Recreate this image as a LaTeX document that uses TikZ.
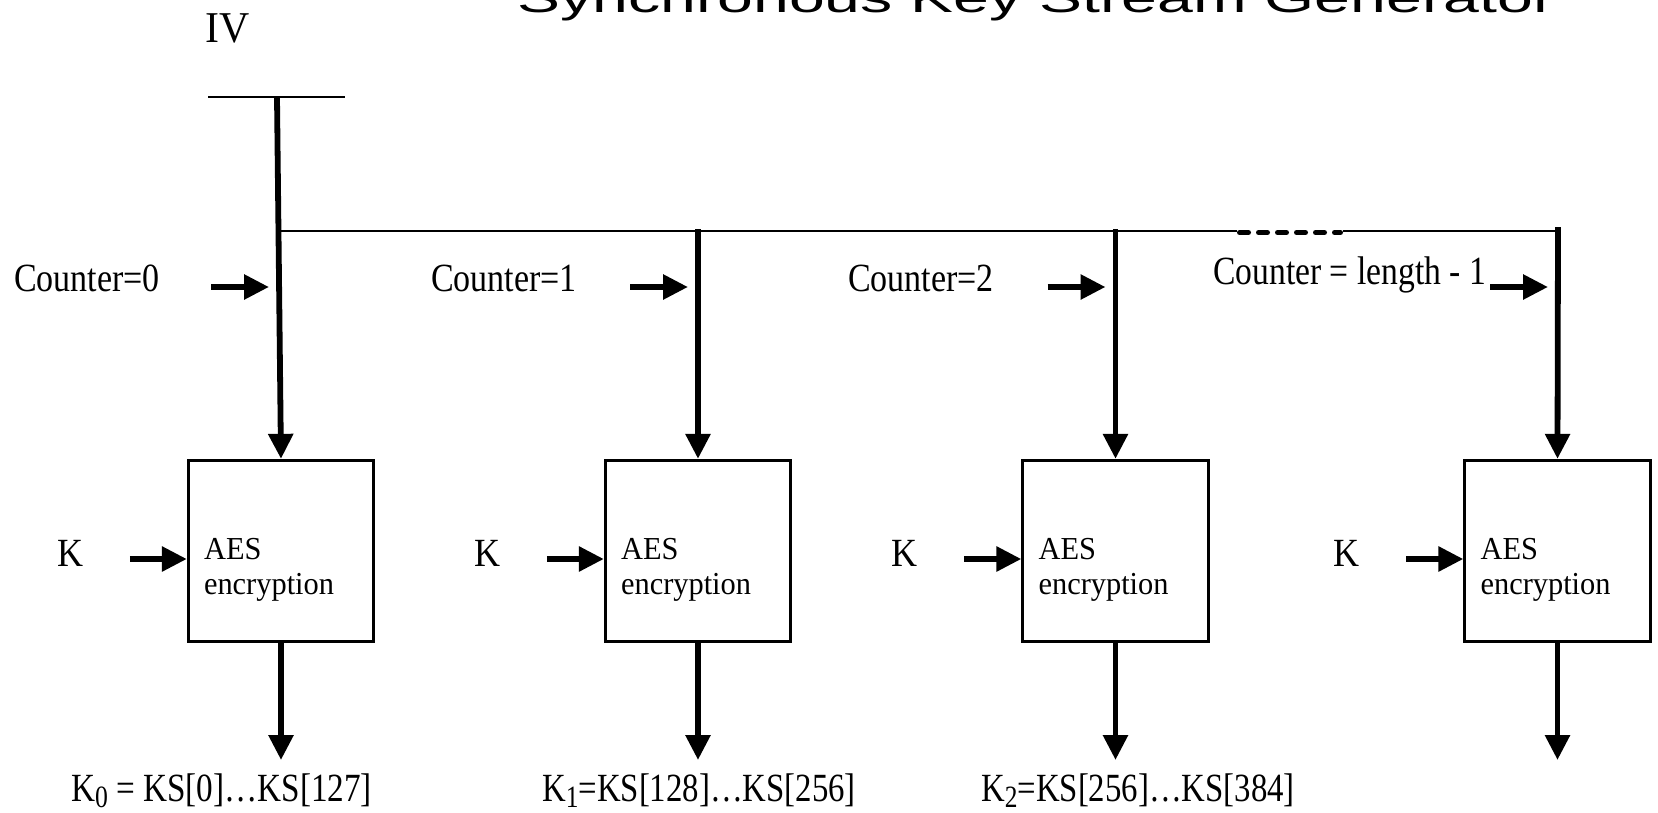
\documentclass[tikz,border=0pt]{standalone}
\usepackage{fontspec}
\setmainfont{Liberation Serif}
\newfontfamily\titlefont{Liberation Sans}
\usetikzlibrary{arrows.meta,calc}

% condensed text and low subscripts as used in the labels
\newcommand\cnd[2][0.85]{\scalebox{#1}[1]{#2}}
\newcommand\lowsub[1]{\raisebox{-6pt}{\fontsize{31}{31}\selectfont #1}}

\tikzset{
  bigarrow/.style={line width=5.8pt, -{Triangle[width=24pt,length=25pt]}},
  busline/.style={line width=2.2pt},
  barline/.style={line width=2.6pt},
  dotseg/.style={line width=5pt, line cap=round, dash pattern=on 9pt off 10pt},
  aesbox/.style={draw, line width=2.8pt, minimum width=185.5pt, minimum height=181.5pt, inner sep=0pt},
  lbl/.style={inner sep=0pt, anchor=base west, font=\fontsize{40}{40}\selectfont},
  aestext/.style={inner sep=0pt, anchor=base west, font=\fontsize{32}{32}\selectfont},
  ivtext/.style={inner sep=0pt, anchor=base west, font=\fontsize{44}{44}\selectfont},
  titletext/.style={inner sep=0pt, anchor=base west, font=\titlefont\fontsize{41}{41}\selectfont},
}

\begin{document}
\begin{tikzpicture}[x=1pt,y=-1pt]
\useasboundingbox (0,0) rectangle (1658,812);

% heading, partly above the top edge
\begin{scope}
  \clip (0,0) rectangle (1658,812);
  \node[titletext] (title) at (517,12) {\scalebox{1.57}[1]{Synchronous Key Stream Generator}};
\end{scope}

% the four AES stages with key inputs and key-stream outputs
\foreach \i/\cx in {1/281,2/698,3/1115.5,4/1557.5} {
  \node[aesbox] (b\i) at (\cx,551) {};
  \node[aestext] (aes\i) at ($(b\i.north west)+(17,101)$) {\cnd[0.95]{AES}};
  \node[aestext] (enc\i) at ($(b\i.north west)+(17,136)$) {\cnd[0.95]{encryption}};
  \node[lbl] (k\i) at ($(b\i.west)+(-130,15)$) {\cnd[0.9]{K}};
  \coordinate (ks\i) at ($(b\i.west)+(-57,8)$);
  \coordinate (ke\i) at ($(b\i.west)+(0,8)$);
  \draw[bigarrow] (ks\i) -- (ke\i);
  \coordinate (out\i) at (\cx,760);
  \draw[bigarrow] (b\i.south) -- (out\i);
}

% IV input and its bar
\node[ivtext] (iv) at (205,42) {\cnd[0.95]{IV}};
\coordinate (ivl) at (208,97);
\coordinate (ivr) at (345,97);
\coordinate (ivj) at (277,97);
\draw[barline] (ivl) -- (ivr);
\draw[bigarrow] (ivj) -- (b1.north);

% distribution bus with the elided part
\coordinate (bus0) at (279,231);
\coordinate (dashA) at (1237,231);
\coordinate (dashB) at (1343,231);
\coordinate (bus4) at (1558,231);
\draw[busline] (bus0) -- (dashA);
\draw[busline] (dashB) -- (bus4);
\draw[dotseg] ($(dashA)+(2.5,1.5)$) -- ($(dashB)+(-2.5,1.5)$);

\coordinate (t2) at (698,229);
\coordinate (t3) at (1115.5,229);
\coordinate (t4) at (1558,227);
\draw[bigarrow] (t2) -- (b2.north);
\draw[bigarrow] (t3) -- (b3.north);
\draw[bigarrow] (t4) -- (b4.north);

% counter values
\node[lbl] (c1) at (14,291) {\cnd{Counter=0}};
\node[lbl] (c2) at (431,291) {\cnd{Counter=1}};
\node[lbl] (c3) at (848,291) {\cnd{Counter=2}};
\node[lbl] (c4) at (1213,284) {\cnd[0.84]{Counter = length - 1}};
\foreach \j/\lx in {1/279,2/698,3/1115.5,4/1558} {
  \coordinate (ca\j) at (\lx-68,287);
  \coordinate (cb\j) at (\lx-10,287);
  \draw[bigarrow] (ca\j) -- (cb\j);
}

% key-stream blocks
\node[lbl] (o1) at (71,801) {\cnd[0.83]{K\lowsub{0} = KS[0]…KS[127]}};
\node[lbl] (o2) at (542,801) {\cnd[0.82]{K\lowsub{1}=KS[128]…KS[256]}};
\node[lbl] (o3) at (981,801) {\cnd[0.82]{K\lowsub{2}=KS[256]…KS[384]}};
\end{tikzpicture}
\end{document}
